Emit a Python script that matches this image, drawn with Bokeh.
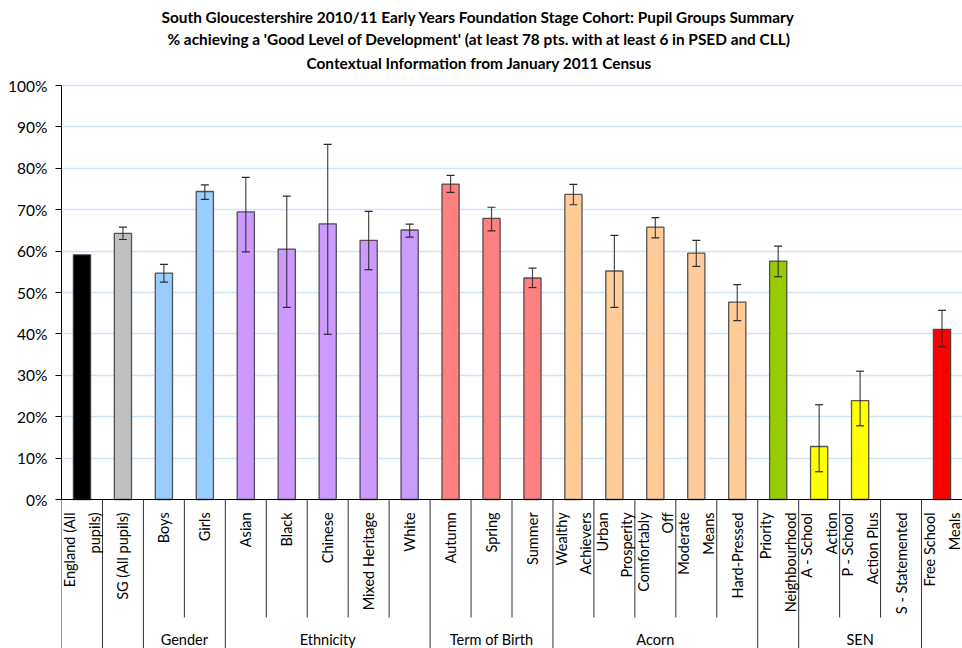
from math import pi, nan, isnan
from bokeh.plotting import figure
from bokeh.models import ColumnDataSource, Range1d, FixedTicker, Span, Whisker, TeeHead, Title
from bokeh.core.properties import value
from bokeh.embed import file_html
from bokeh.resources import INLINE

# ---------------- data ----------------
categories = ["England (All\npupils)", "SG (All pupils)", "Boys", "Girls", "Asian", "Black",
              "Chinese", "Mixed Heritage", "White", "Autumn", "Spring", "Summer",
              "Wealthy\nAchievers", "Urban\nProsperity", "Comfortably\nOff", "Moderate\nMeans",
              "Hard-Pressed", "Priority\nNeighbourhood", "A - School\nAction",
              "P - School\nAction Plus", "S - Statemented", "Free School\nMeals"]
groups = ["", "", "Gender", "Gender", "Ethnicity", "Ethnicity", "Ethnicity", "Ethnicity",
          "Ethnicity", "Term of Birth", "Term of Birth", "Term of Birth", "Acorn", "Acorn",
          "Acorn", "Acorn", "Acorn", "", "SEN", "SEN", "SEN", ""]
pct_good = [59.1, 64.3, 54.7, 74.4, 69.5, 60.5, 66.6, 62.6, 65.1, 76.2, 67.9, 53.5,
            73.7, 55.2, 65.8, 59.5, 47.7, 57.6, 12.8, 23.9, nan, 41.1]
ci_low = [nan, 62.8, 52.5, 72.5, 59.8, 46.4, 39.9, 55.5, 63.4, 74.2, 64.9, 51.2,
          71.2, 46.4, 63.2, 56.3, 43.2, 53.8, 6.7, 17.8, nan, 36.9]
ci_high = [nan, 65.8, 56.8, 76.0, 77.8, 73.3, 85.8, 69.6, 66.5, 78.3, 70.6, 55.9,
           76.1, 63.8, 68.1, 62.6, 51.9, 61.2, 22.9, 31.0, nan, 45.7]
bar_colors = ["#000000", "#c0c0c0", "#99ccff", "#99ccff", "#cc99ff", "#cc99ff", "#cc99ff",
              "#cc99ff", "#cc99ff", "#ff8080", "#ff8080", "#ff8080", "#ffcc99", "#ffcc99",
              "#ffcc99", "#ffcc99", "#ffcc99", "#99cc00", "#ffff00", "#ffff00", "#ffff00",
              "#ff0000"]
y_ticks = [0, 10, 20, 30, 40, 50, 60, 70, 80, 90, 100]
title_lines = ["South Gloucestershire 2010/11 Early Years Foundation Stage Cohort: Pupil Groups Summary",
               "% achieving a 'Good Level of Development' (at least 78 pts. with at least 6 in PSED and CLL)",
               "Contextual Information from January 2011 Census"]
title_offsets = [100, 106, 245]   # left indent (px) of each title line from the plot frame

FONT = "Lato"
n = len(categories)
xs = list(range(n))
Y_MIN = -35.99
Y_MAX = 102.42

p = figure(width=962, height=648, output_backend="svg", toolbar_location=None,
           x_axis_location=None, x_range=Range1d(-0.5, 21.5), y_range=Range1d(Y_MIN, Y_MAX),
           min_border_left=61, min_border_right=0, min_border_top=75, min_border_bottom=0)
p.outline_line_color = None
p.background_fill_color = "white"
p.border_fill_color = "white"

for i, (t, off) in enumerate(reversed(list(zip(title_lines, title_offsets)))):
    p.add_layout(Title(text=t, align="left", text_font=FONT, text_font_size="15.4px",
                       text_font_style="bold", text_color="black",
                       standoff=(7 if i == 0 else 2), offset=off), "above")

# y axis
p.yaxis.ticker = FixedTicker(ticks=y_ticks)
p.yaxis.major_label_overrides = {v: f"{v}%" for v in y_ticks}
p.yaxis.bounds = (0, 100)
p.yaxis.axis_line_color = "black"
p.yaxis.major_tick_line_color = "black"
p.yaxis.major_tick_in = 0
p.yaxis.major_tick_out = 6
p.yaxis.minor_tick_line_color = None
p.yaxis.major_label_text_font = FONT
p.yaxis.major_label_text_font_size = "15.5px"
p.yaxis.major_label_text_color = "black"
p.yaxis.major_label_standoff = 8
p.xgrid.visible = False
p.ygrid.ticker = FixedTicker(ticks=y_ticks[1:])
p.ygrid.grid_line_color = "#9ccbf5"
p.ygrid.grid_line_dash = "1 1"
p.ygrid.grid_line_width = 1.3

src = ColumnDataSource(dict(x=xs, top=pct_good, color=bar_colors, label=categories))
p.vbar(x="x", top="top", width=0.42, bottom=0, fill_color="color", source=src,
       line_color="#3a3a3a", line_alpha=0.85, line_width=1.3)

# error bars
ex = [x for x, lo in zip(xs, ci_low) if not isnan(lo)]
el = [lo for lo in ci_low if not isnan(lo)]
eh = [hi for hi in ci_high if not isnan(hi)]
esrc = ColumnDataSource(dict(x=ex, lower=el, upper=eh))
p.add_layout(Whisker(base="x", lower="lower", upper="upper", source=esrc, level="overlay",
                     line_color="#2a2a2a", line_alpha=0.85, line_width=1.2,
                     upper_head=TeeHead(size=8, line_color="#2a2a2a", line_width=1.2),
                     lower_head=TeeHead(size=8, line_color="#2a2a2a", line_width=1.2)))

# category axis line
p.add_layout(Span(location=0, dimension="width", line_color="black", line_width=1))

# separators
sep_x, sep_y1 = [], []
for i in range(-1, n):
    left = groups[i] if i >= 0 else ""
    right = groups[i + 1] if i + 1 < n else ""
    full = (left == "" or right == "" or left != right)
    sep_x.append(i + 0.5)
    sep_y1.append(Y_MIN if full else -28.5)
p.segment(x0=sep_x, y0=[0] * len(sep_x), x1=sep_x, y1=sep_y1, line_color="#303030", line_width=1)

# category labels
p.text(x="x", y=-3.1, text="label", source=src, angle=pi / 2, text_align="right",
       text_baseline="middle", text_font=value(FONT), text_font_size="14.5px",
       text_color="black", text_line_height=1.45)

# group labels
gnames, gx = [], []
for g in dict.fromkeys(groups):
    if g:
        idx = [i for i, gg in enumerate(groups) if gg == g]
        gnames.append(g)
        gx.append(sum(idx) / len(idx))
p.text(x=gx, y=[-33.9] * len(gx), text=gnames, text_align="center", text_baseline="middle",
       text_font=value(FONT), text_font_size="14.5px", text_color="black")

open("out.html", "w").write(file_html(p, INLINE))
